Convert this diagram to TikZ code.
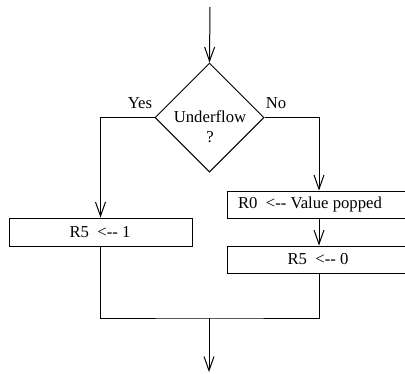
\documentclass[tikz,border=0pt]{standalone}
\usepackage{fontspec}
\newfontfamily\lsf{Liberation Serif}
\usetikzlibrary{shapes.geometric,arrows.meta}
\begin{document}
\begin{tikzpicture}[x=1pt,y=-1pt,line width=1pt,
  every node/.style={font=\lsf\fontsize{16.7}{20}\selectfont},
  arr/.style={-{Straight Barb[length=14pt,width=10pt]}},
  box/.style={draw,rectangle,inner sep=0pt},
  dec/.style={draw,diamond,minimum width=109pt,minimum height=109pt,inner sep=0pt},
  lbl/.style={inner sep=0pt,align=center}]
\clip (0,0) rectangle (405,373);
\coordinate (start) at (210,7);
\node[dec] (d) at (209.5,117.5) {};
\node[lbl] (dt) at (210,127) {Underflow\\?};
\node[lbl] (yes) at (140,103) {Yes};
\node[lbl] (no) at (276,103) {No};
\node[box,minimum width=183pt,minimum height=28pt] (b1) at (100.5,232) {};
\node[box,minimum width=184pt,minimum height=27pt] (b2) at (319,204.5) {};
\node[box,minimum width=184pt,minimum height=27pt] (b3) at (319,259.5) {};
\node[lbl] (t1) at (100,232) {R5\ \ <-- 1};
\node[lbl] (t2) at (310,204.5) {R0\ \ <-- Value popped};
\node[lbl] (t3) at (318,259.5) {R5\ \ <-- 0};
\coordinate (m) at (209,318);
\coordinate (end) at (209,372);
\draw[arr] (start) -- (d.north);
\draw[arr] (d.west) -| (b1.north);
\draw[arr] (d.east) -| (b2.north);
\draw[arr] (b2.south) -- (b3.north);
\draw (b1.south) |- (m) -| (b3.south);
\draw[arr] (m) -- (end);
\end{tikzpicture}
\end{document}
